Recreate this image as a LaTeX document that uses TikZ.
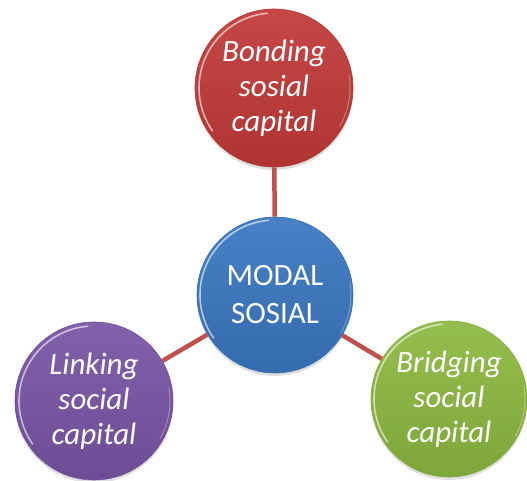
\documentclass[tikz,border=0pt]{standalone}
\usepackage{fontspec}
\setmainfont{Carlito}
\usetikzlibrary{shadows}

\definecolor{bondred}{HTML}{C23A38}
\definecolor{modalblue}{HTML}{3A77C1}
\definecolor{linkpurple}{HTML}{7955A5}
\definecolor{bridgegreen}{HTML}{8CB940}
\definecolor{linkline}{HTML}{C0504D}

\begin{document}
\begin{tikzpicture}[
    x=1pt, y=1pt,
    bubble/.style={circle, minimum size=158pt, inner sep=0pt, align=center, text=white,
        top color=#1!93!white, bottom color=#1!90!black, draw=#1!92!black, line width=0.6pt,
        drop shadow={opacity=0.25, shadow xshift=0pt, shadow yshift=-3pt},
        path picture={
            \draw[white, opacity=0.6, line width=1.6pt, line cap=round]
                ([shift={(95:75pt)}]path picture bounding box.center) arc[start angle=95, end angle=215, radius=75pt];
            \draw[white, opacity=0.3, line width=1pt, line cap=round]
                ([shift={(330:76pt)}]path picture bounding box.center) arc[start angle=330, end angle=370, radius=76pt];
        }},
    conn/.style={linkline, line width=4.5pt}
]
\useasboundingbox (0,0) rectangle (527,481);

% centre and the three kinds of capital
\node[bubble=modalblue, minimum size=156pt, font=\fontsize{31}{38}\selectfont] (modal) at (275,186) {MODAL\\SOSIAL};
\node[bubble=bondred, font=\fontsize{31}{35}\selectfont\itshape] (bonding) at (274,393) {Bonding\\sosial\\capital};
\node[bubble=linkpurple, font=\fontsize{31}{35}\selectfont\itshape] (linking) at (94,80) {Linking\\social\\capital};
\node[bubble=bridgegreen, minimum size=156pt, font=\fontsize{31}{35}\selectfont\itshape] (bridging) at (449,82) {Bridging\\social\\capital};

% spokes
\draw[conn] (modal) -- (bonding);
\draw[conn] (modal) -- (linking);
\draw[conn] (modal) -- (bridging);

\end{tikzpicture}
\end{document}
